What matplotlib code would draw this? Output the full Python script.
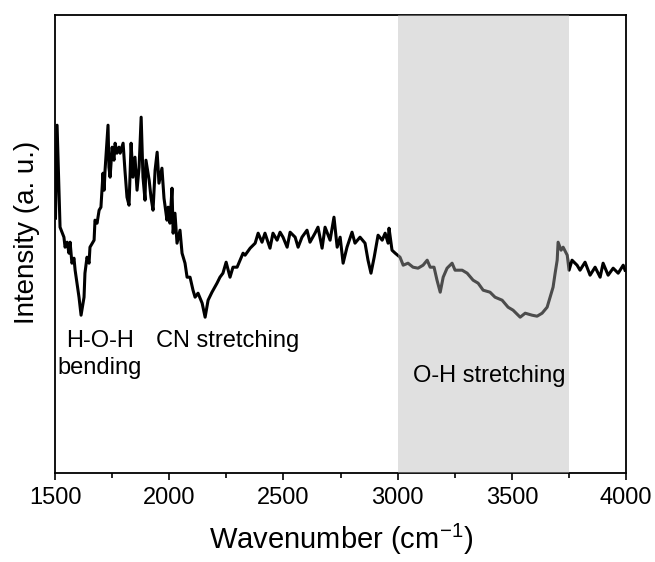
import matplotlib
matplotlib.use("Agg")
import matplotlib.pyplot as plt
from matplotlib.ticker import MultipleLocator

plt.rcParams['font.family'] = ['Liberation Sans', 'DejaVu Sans']

# spectrum (wavenumber, intensity in a.u.)
wavenumber = [1502, 1509, 1518, 1522, 1539, 1544, 1553, 1561, 1566, 1574, 1583, 1588,
              1605, 1614, 1627, 1631, 1640, 1649, 1653, 1671, 1675, 1684, 1693, 1701,
              1710, 1715, 1719, 1732, 1736, 1741, 1750, 1758, 1763, 1771, 1780, 1785,
              1798, 1806, 1815, 1824, 1833, 1841, 1850, 1859, 1868, 1877, 1885, 1894,
              1898, 1912, 1920, 1929, 1938, 1947, 1955, 1968, 1977, 1990, 1995, 2003,
              2012, 2017, 2025, 2034, 2047, 2056, 2069, 2078, 2091, 2104, 2113, 2126,
              2144, 2157, 2170, 2187, 2209, 2222, 2235, 2249, 2266, 2279, 2297, 2310,
              2323, 2332, 2354, 2376, 2389, 2406, 2419, 2441, 2454, 2472, 2485, 2498,
              2516, 2529, 2551, 2564, 2581, 2603, 2616, 2638, 2651, 2669, 2682, 2704,
              2721, 2735, 2748, 2761, 2778, 2800, 2813, 2835, 2857, 2870, 2883, 2897,
              2914, 2932, 2945, 2958, 2962, 2975, 2989, 3010, 3024, 3045, 3067, 3089,
              3111, 3129, 3142, 3159, 3172, 3186, 3199, 3216, 3238, 3251, 3282, 3304,
              3330, 3352, 3374, 3404, 3426, 3457, 3483, 3505, 3536, 3558, 3588, 3610,
              3632, 3654, 3667, 3680, 3689, 3698, 3702, 3715, 3724, 3742, 3750, 3763,
              3785, 3798, 3820, 3842, 3864, 3886, 3899, 3921, 3943, 3965, 3987, 3995]
intensity = [255, 348, 276, 246, 236, 226, 231, 220, 231, 210, 215, 203,
             176, 158, 176, 200, 216, 210, 226, 233, 253, 250, 263, 266,
             300, 283, 303, 348, 306, 296, 326, 313, 330, 320, 326, 320,
             330, 303, 276, 268, 330, 296, 316, 283, 306, 356, 296, 273,
             313, 293, 276, 263, 303, 321, 290, 305, 275, 253, 266, 250,
             285, 240, 260, 230, 243, 220, 210, 196, 196, 183, 176, 180,
             170, 156, 173, 181, 190, 196, 200, 211, 196, 206, 206, 213,
             220, 218, 225, 230, 240, 231, 240, 225, 240, 233, 241, 236,
             226, 241, 236, 226, 236, 243, 231, 240, 246, 225, 246, 233,
             256, 226, 236, 210, 226, 241, 230, 236, 230, 213, 200, 216,
             238, 233, 240, 230, 245, 223, 220, 216, 208, 210, 206, 205,
             208, 213, 206, 206, 193, 181, 196, 205, 210, 203, 203, 200,
             193, 190, 183, 181, 176, 173, 166, 163, 156, 160, 158, 157,
             160, 166, 176, 186, 200, 213, 231, 223, 226, 218, 203, 213,
             208, 203, 211, 198, 206, 196, 210, 198, 205, 200, 208, 203]

band_start = 3000
band_end = 3750
labels = ["H-O-H\nbending", "CN stretching", "O-H stretching"]
label_x = [1695, 2257, 3400]
label_y = [119, 132, 97]

fig = plt.figure(figsize=(6.55, 5.62), dpi=100)
ax = fig.add_axes([0.084, 0.158, 0.872, 0.815])

ax.plot(wavenumber, intensity, color='black', lw=2.2, zorder=2)
# shaded band drawn over the trace, so the line looks grey inside it
ax.axvspan(band_start, band_end, color='#b6b6b6', alpha=0.42, lw=0, zorder=3)

for t, x, y in zip(labels, label_x, label_y):
    ax.text(x, y, t, ha='center', va='center', fontsize=17, zorder=4,
            linespacing=1.3)

ax.set_xlim(1500, 4000)
ax.set_ylim(0, 458)
ax.xaxis.set_major_locator(MultipleLocator(500))
ax.xaxis.set_minor_locator(MultipleLocator(250))
ax.tick_params(axis='x', which='major', direction='out', length=5, width=1.2,
               labelsize=17, pad=5)
ax.tick_params(axis='x', which='minor', direction='out', length=3.5, width=1.2)
ax.set_yticks([])
for s in ax.spines.values():
    s.set_linewidth(1.3)

ax.set_xlabel("Wavenumber (cm$^{\\mathregular{-1}}$)", fontsize=21, labelpad=9)
ax.set_ylabel("Intensity (a. u.)", fontsize=20)
ax.yaxis.set_label_coords(-0.026, 0.525)

fig.savefig("out.png", dpi=100)
